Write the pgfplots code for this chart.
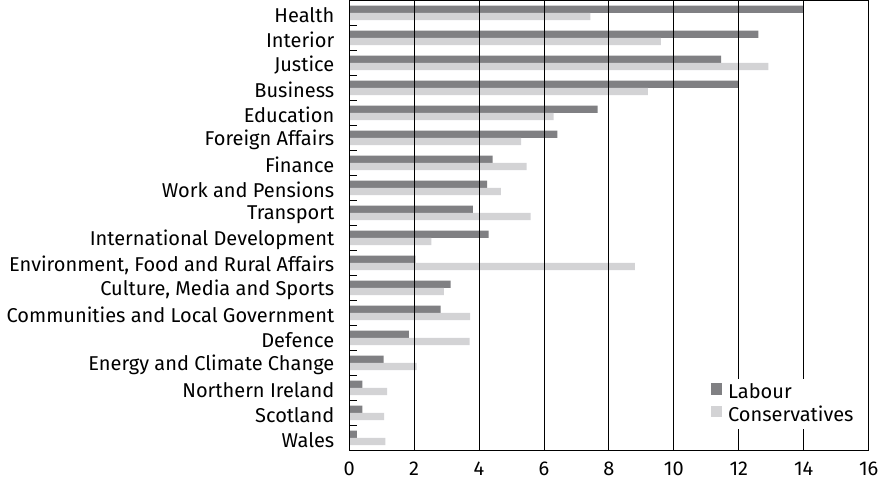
\documentclass[border=0pt]{standalone}
\usepackage{fontspec}
\setmainfont{Fira Sans}
\usepackage{pgfplots}
\pgfplotsset{compat=1.18}
\definecolor{lab}{HTML}{808083}
\definecolor{con}{HTML}{D3D3D5}
\begin{document}
\fontsize{20bp}{24bp}\selectfont
\begin{tikzpicture}
\begin{axis}[
  scale only axis,
  width=519.7bp, height=450bp,
  xbar, bar width=7.3bp,
  xmin=0, xmax=16, ymin=-0.5, ymax=17.5,
  xtick={0,2,...,16},
  xmajorgrids, major grid style={black, line width=0.8bp},
  x tick style={draw=none},
  ytick={0,...,17},
  yticklabels={Wales,Scotland,Northern Ireland,Energy and Climate Change,Defence,Communities and Local Government,{Culture, Media and Sports},{Environment, Food and Rural Affairs},International Development,Transport,Work and Pensions,Finance,Foreign Affairs,Education,Business,Justice,Interior,Health},
  minor ytick={-0.5,0.5,...,17.5},
  ytick pos=left,
  y tick style={draw=none},
  minor y tick style={draw=black, line width=0.8bp},
  minor tick length=8bp,
  tick align=inside,
  axis line style={black, line width=0.9bp},
  axis on top,
  /pgf/number format/assume math mode=true,
  tick label style={font=\fontsize{20bp}{24bp}\selectfont},
  yticklabel style={xshift=-8bp, yshift=-2bp},
  xticklabel style={yshift=-5bp},
  legend style={draw=none, fill=white, at={(0.979,0.046)}, anchor=south east,
    font=\fontsize{20bp}{24bp}\selectfont, row sep=3bp, inner sep=4bp,
    nodes={inner sep=0pt, text height=14bp, text depth=4bp},
    /tikz/every odd column/.append style={column sep=6bp}},
  legend cell align=left,
  legend image code/.code={\fill[#1] (0bp,-1bp) rectangle (11.5bp,10.5bp);},
]
\addplot[fill=lab, draw=none, bar shift=3.65bp] coordinates {
(0.24,0) (0.41,1) (0.41,2) (1.06,3) (1.84,4) (2.82,5) (3.13,6) (2.04,7) (4.30,8)
(3.81,9) (4.25,10) (4.42,11) (6.41,12) (7.65,13) (12.0,14) (11.46,15) (12.6,16) (14.0,17)};
\addlegendentry{Labour}
\addplot[fill=con, draw=none, bar shift=-3.65bp] coordinates {
(1.12,0) (1.08,1) (1.17,2) (2.08,3) (3.71,4) (3.73,5) (2.92,6) (8.80,7) (2.53,8)
(5.59,9) (4.67,10) (5.47,11) (5.30,12) (6.30,13) (9.2,14) (12.91,15) (9.6,16) (7.43,17)};
\addlegendentry{Conservatives}
\end{axis}
\end{tikzpicture}
\end{document}
